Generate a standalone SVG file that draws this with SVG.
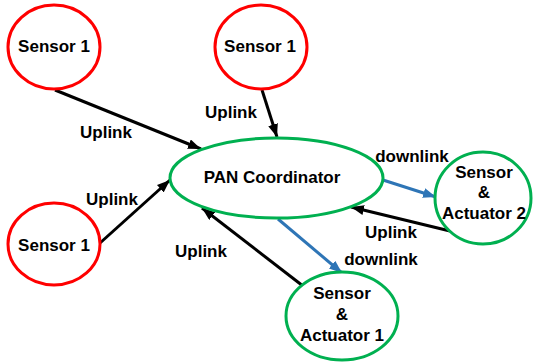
<svg xmlns="http://www.w3.org/2000/svg" width="535" height="362" viewBox="0 0 535 362">
<defs>
<style>
text{font-family:"Liberation Sans",Arial,sans-serif;font-weight:bold;font-size:17px;fill:#000}
.lbl{text-anchor:middle}
.red{fill:#fff;stroke:#ff0000;stroke-width:3}
.grn{fill:#fff;stroke:#00b050;stroke-width:3}
.up{stroke:#000;stroke-width:3;fill:none}
.dn{stroke:#2e75b6;stroke-width:3;fill:none}
</style>
<marker id="ah" markerUnits="userSpaceOnUse" markerWidth="14" markerHeight="10" refX="13" refY="5" orient="auto"><path d="M0,0 L13,5 L0,10 z" fill="#000"/></marker>
<marker id="ahb" markerUnits="userSpaceOnUse" markerWidth="14" markerHeight="10" refX="13" refY="5" orient="auto"><path d="M0,0 L13,5 L0,10 z" fill="#2e75b6"/></marker>
</defs>
<rect width="535" height="362" fill="#fff"/>
<g id="connectors">
<line class="up" x1="55" y1="90" x2="201" y2="149" marker-end="url(#ah)"/>
<line class="up" x1="262" y1="90" x2="277" y2="137" marker-end="url(#ah)"/>
<line class="up" x1="100" y1="243" x2="170" y2="180" marker-end="url(#ah)"/>
<line class="up" x1="303" y1="286" x2="202" y2="208" marker-end="url(#ah)"/>
<line class="up" x1="450" y1="231" x2="351" y2="207" marker-end="url(#ah)"/>
<line class="dn" x1="278" y1="219" x2="342" y2="273" marker-end="url(#ahb)"/>
<line class="dn" x1="383" y1="180" x2="436" y2="197" marker-end="url(#ahb)"/>
<text x="106" y="138" class="lbl">Uplink</text>
<text x="231" y="118" class="lbl">Uplink</text>
<text x="112" y="205" class="lbl">Uplink</text>
<text x="201" y="257" class="lbl">Uplink</text>
<text x="391" y="238" class="lbl">Uplink</text>
<text x="412" y="162" class="lbl">downlink</text>
<text x="381" y="265" class="lbl">downlink</text>
</g>
<g id="sensor1a">
<ellipse class="red" cx="54" cy="47" rx="46" ry="42"/>
<text x="54" y="52" class="lbl">Sensor 1</text>
</g>
<g id="sensor1b">
<ellipse class="red" cx="261" cy="47" rx="46" ry="42"/>
<text x="260" y="52" class="lbl">Sensor 1</text>
</g>
<g id="sensor1c">
<ellipse class="red" cx="54" cy="244" rx="46" ry="41"/>
<text x="54" y="251" class="lbl">Sensor 1</text>
</g>
<g id="pan">
<ellipse class="grn" cx="276.5" cy="178" rx="106.5" ry="40"/>
<text x="272" y="183" class="lbl">PAN Coordinator</text>
</g>
<g id="sa2">
<ellipse class="grn" cx="483" cy="198" rx="48" ry="46"/>
<text x="484" y="178" class="lbl">Sensor</text>
<text x="484" y="198" class="lbl">&amp;</text>
<text x="484" y="219" class="lbl">Actuator 2</text>
</g>
<g id="sa1">
<ellipse class="grn" cx="342" cy="316" rx="56" ry="44"/>
<text x="342" y="299" class="lbl">Sensor</text>
<text x="342" y="320" class="lbl">&amp;</text>
<text x="342" y="341" class="lbl">Actuator 1</text>
</g>
</svg>
